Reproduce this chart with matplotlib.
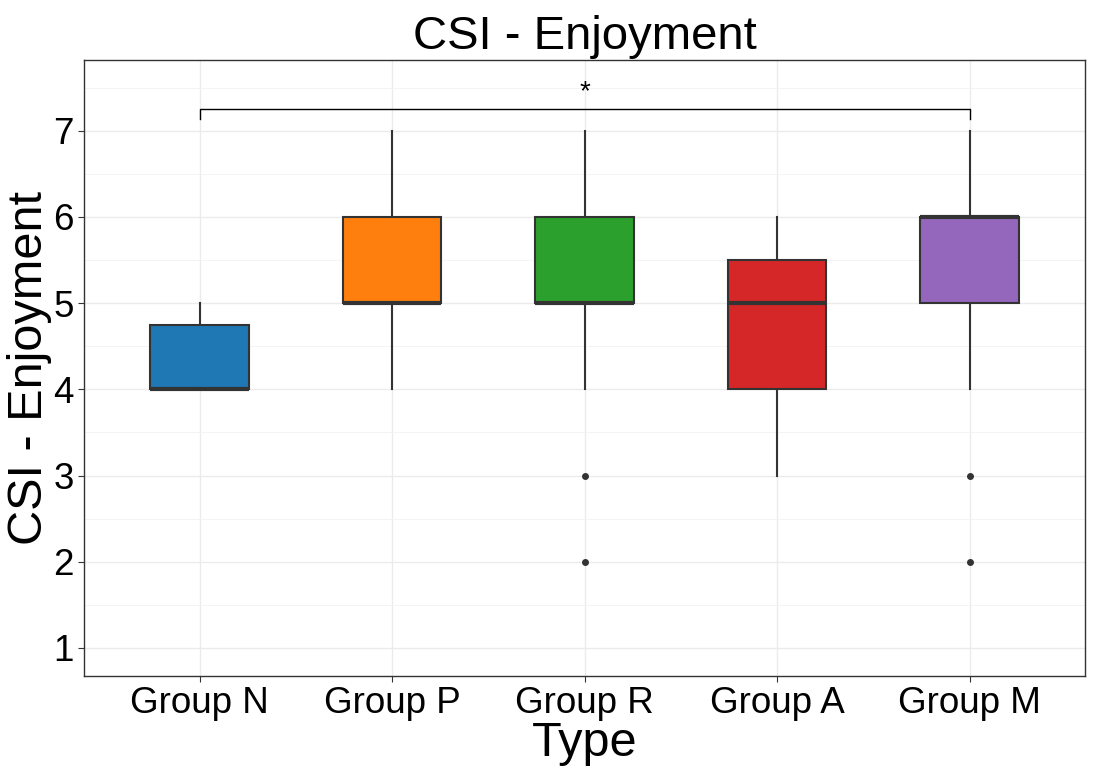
import matplotlib.pyplot as plt

plt.rcParams['font.family'] = ['Liberation Sans', 'DejaVu Sans']

# data
groups = ['Group N', 'Group P', 'Group R', 'Group A', 'Group M']
q1 = [4, 5, 5, 4, 5]
median = [4, 5, 5, 5, 6]
q3 = [4.75, 6, 6, 5.5, 6]
whisker_low = [4, 4, 4, 3, 4]
whisker_high = [5, 7, 7, 6, 7]
outliers = [[], [], [3, 2], [], [3, 2]]
colors = ['#1f77b4', '#ff7f0e', '#2ca02c', '#d62728', '#9467bd']

stats = []
for i in range(len(groups)):
    stats.append({'label': groups[i], 'q1': q1[i], 'med': median[i], 'q3': q3[i],
                  'whislo': whisker_low[i], 'whishi': whisker_high[i],
                  'fliers': outliers[i]})

fig = plt.figure(figsize=(10.93, 7.75), dpi=100)
ax = fig.add_axes([84 / 1093, 1 - 676 / 775, 1001 / 1093, 616 / 775])

positions = list(range(1, len(groups) + 1))
bp = ax.bxp(stats, positions=positions, widths=0.51, patch_artist=True,
            showcaps=False,
            boxprops=dict(edgecolor='#333333', linewidth=1.5),
            medianprops=dict(color='#333333', linewidth=3),
            whiskerprops=dict(color='#333333', linewidth=1.5),
            flierprops=dict(marker='o', markerfacecolor='#333333', markeredgecolor='#333333',
                            markersize=4, linestyle='none'),
            zorder=3)
for patch, c in zip(bp['boxes'], colors):
    patch.set_facecolor(c)

# significance bracket N vs M
ax.plot([1, 1, 5, 5], [7.13, 7.25, 7.25, 7.13], color='black', linewidth=1, zorder=4)
ax.text(3, 7.30, '*', ha='center', va='bottom', fontsize=20)

ax.set_xlim(0.4, 5.6)
ax.set_ylim(0.675, 7.82)
ax.set_xticks(positions)
ax.set_xticklabels(groups)
ax.set_yticks([1, 2, 3, 4, 5, 6, 7])
ax.set_yticks([1.5, 2.5, 3.5, 4.5, 5.5, 6.5, 7.5], minor=True)
ax.grid(True, which='major', color='#ebebeb', linewidth=1, zorder=0)
ax.grid(True, which='minor', axis='y', color='#f2f2f2', linewidth=0.6, zorder=0)
ax.set_axisbelow(True)
for s in ax.spines.values():
    s.set_color('#333333')
    s.set_linewidth(1)
ax.tick_params(axis='both', which='major', labelsize=26.5, color='#333333', length=4, labelcolor='black')
ax.tick_params(axis='both', which='minor', length=0)

ax.set_title('CSI - Enjoyment', fontsize=34, pad=8)
ax.set_xlabel('Type', fontsize=35, labelpad=0)
ax.set_ylabel('CSI - Enjoyment', fontsize=35, labelpad=1)

fig.savefig('out.png', dpi=100)
